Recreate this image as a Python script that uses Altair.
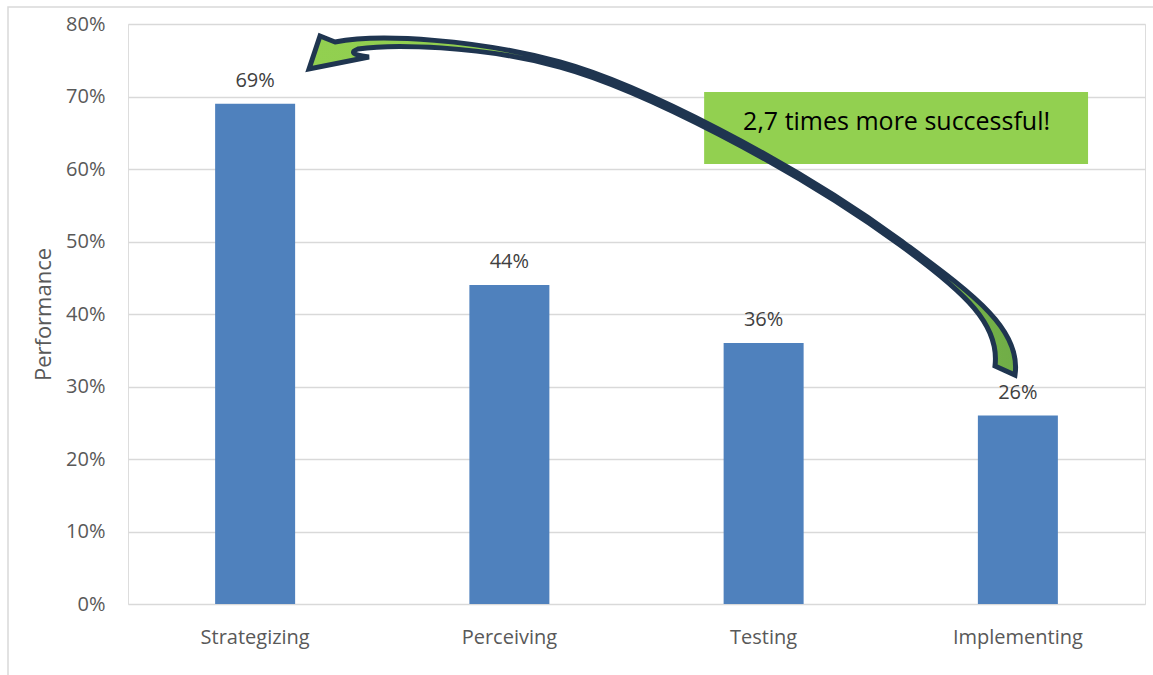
import altair as alt
import pandas as pd

# ---- data ----
categories = ["Strategizing", "Perceiving", "Testing", "Implementing"]
performance = [0.69, 0.44, 0.36, 0.26]
y_ticks = [0, 0.1, 0.2, 0.3, 0.4, 0.5, 0.6, 0.7, 0.8]

# ---- annotation (in data units: x spans 0..4 over the four categories) ----
callout_text = ["2,7 times more successful!"]
callout_box_x = [2.266]
callout_box_x2 = [3.776]
callout_box_y = [0.7062]
callout_box_y2 = [0.6069]
callout_text_x = [3.023]
callout_text_y = [0.6538]
arrow_anchor_x = [2.0]
arrow_anchor_y = [0.55]

# ---- layout ----
PLOT_W, PLOT_H = 1017, 580
LEFT, TOP = 128, 24
Y_MAX = 0.8
X_MAX = 4.0

# Arrow outline (shape geometry, page pixels), turned into a custom symbol path
arrow_outline = [
    ("M", [(309, 69)]),
    ("L", [(320, 36)]),
    ("L", [(335, 42)]),
    ("C", [(380, 33), (480, 40), (560, 62)]),
    ("C", [(640, 84), (790, 160), (900, 240)]),
    ("C", [(970, 292), (1022, 328), (1015, 375)]),
    ("L", [(995, 366)]),
    ("C", [(1000, 325), (966, 293), (900, 245)]),
    ("C", [(790, 165), (640, 89), (560, 67)]),
    ("C", [(480, 45), (390, 44), (358, 49)]),
    ("C", [(350, 52), (352, 55), (369, 57)]),
    ("Z", []),
]
ax = LEFT + arrow_anchor_x[0] / X_MAX * PLOT_W
ay = TOP + (1 - arrow_anchor_y[0] / Y_MAX) * PLOT_H
parts = []
for cmd, pts in arrow_outline:
    coords = " ".join(f"{px - ax:.2f},{py - ay:.2f}" for px, py in pts)
    parts.append(cmd + coords)
arrow_path = " ".join(parts)

FONT = "Open Sans"
GREY = "#595959"

bars_df = pd.DataFrame({"category": categories, "value": performance})

band = alt.Scale(paddingInner=0, paddingOuter=0)
x_enc = alt.X(
    "category:N",
    sort=categories,
    scale=band,
    axis=alt.Axis(
        title=None,
        labelAngle=0,
        labelFontSize=20,
        labelColor=GREY,
        labelFont=FONT,
        labelPadding=39,
        labelBaseline="alphabetic",
        ticks=False,
        tickSize=0,
        domain=False,
        grid=False,
    ),
)
y_enc = alt.Y(
    "value:Q",
    scale=alt.Scale(domain=[0, Y_MAX], nice=False, zero=True),
    axis=alt.Axis(
        title="Performance",
        values=y_ticks,
        format=".0%",
        labelFontSize=20,
        labelColor=GREY,
        labelFont=FONT,
        labelPadding=23,
        labelBaseline="middle",
        ticks=False,
        tickSize=0,
        domain=False,
        grid=True,
        gridColor="#d9d9d9",
        gridWidth=1.5,
        titleFontSize=22,
        titleFontWeight="normal",
        titleColor=GREY,
        titleFont=FONT,
        titleAngle=-90,
        titleAlign="center",
        titleBaseline="alphabetic",
        titleX=-78,
        titleY=PLOT_H / 2,
    ),
)

bars = alt.Chart(bars_df).mark_bar(size=80, color="#4F81BD").encode(x=x_enc, y=y_enc)

labels = alt.Chart(bars_df).mark_text(
    dy=-17, baseline="alphabetic", align="center", fontSize=20, font=FONT, color="#404040"
).encode(
    x=alt.X("category:N", sort=categories, scale=band, axis=None),
    y=alt.Y("value:Q"),
    text=alt.Text("value:Q", format=".0%"),
)

qx = alt.Scale(domain=[0, X_MAX], nice=False, zero=False)

box_df = pd.DataFrame({"x": callout_box_x, "x2": callout_box_x2, "y": callout_box_y, "y2": callout_box_y2})
box = alt.Chart(box_df).mark_rect(color="#92D050").encode(
    x=alt.X("x:Q", scale=qx, axis=None),
    x2="x2:Q",
    y=alt.Y("y:Q"),
    y2="y2:Q",
)

text_df = pd.DataFrame({"x": callout_text_x, "y": callout_text_y, "t": callout_text})
box_text = alt.Chart(text_df).mark_text(
    fontSize=25, font=FONT, color="#000000", align="center", baseline="alphabetic"
).encode(
    x=alt.X("x:Q", scale=qx, axis=None),
    y=alt.Y("y:Q"),
    text="t:N",
)

arrow_df = pd.DataFrame({"x": arrow_anchor_x, "y": arrow_anchor_y})
arrow_fill = alt.LinearGradient(
    gradient="linear",
    stops=[
        alt.GradientStop(color="#92D050", offset=0),
        alt.GradientStop(color="#8CC94D", offset=0.6),
        alt.GradientStop(color="#70AD47", offset=1),
    ],
    x1=0, x2=1, y1=0, y2=0,
)
arrow = alt.Chart(arrow_df).mark_point(
    shape=arrow_path,
    size=4,
    filled=True,
    fill=arrow_fill,
    stroke="#1F3550",
    strokeWidth=5,
    strokeJoin="miter",
    opacity=1,
    fillOpacity=1,
    strokeOpacity=1,
).encode(
    x=alt.X("x:Q", scale=qx, axis=None),
    y=alt.Y("y:Q"),
)

frame = alt.Chart(pd.DataFrame({"a": [0]})).mark_rect(
    fillOpacity=0, stroke="#d9d9d9", strokeWidth=1.5
).encode(
    x=alt.value(8 - LEFT), x2=alt.value(1300), y=alt.value(7 - TOP), y2=alt.value(800)
)

chart = (
    alt.layer(frame, bars, labels, box, box_text, arrow)
    .resolve_scale(x="independent")
    .properties(
        width=PLOT_W,
        height=PLOT_H,
        autosize=alt.AutoSizeParams(type="none"),
        padding={"left": LEFT, "top": TOP, "right": 1153 - LEFT - PLOT_W, "bottom": 675 - TOP - PLOT_H},
        background="white",
    )
    .configure_view(strokeWidth=0)
    .configure(font=FONT)
)

chart.save("out.html", embed_options={"renderer": "svg", "actions": False})
